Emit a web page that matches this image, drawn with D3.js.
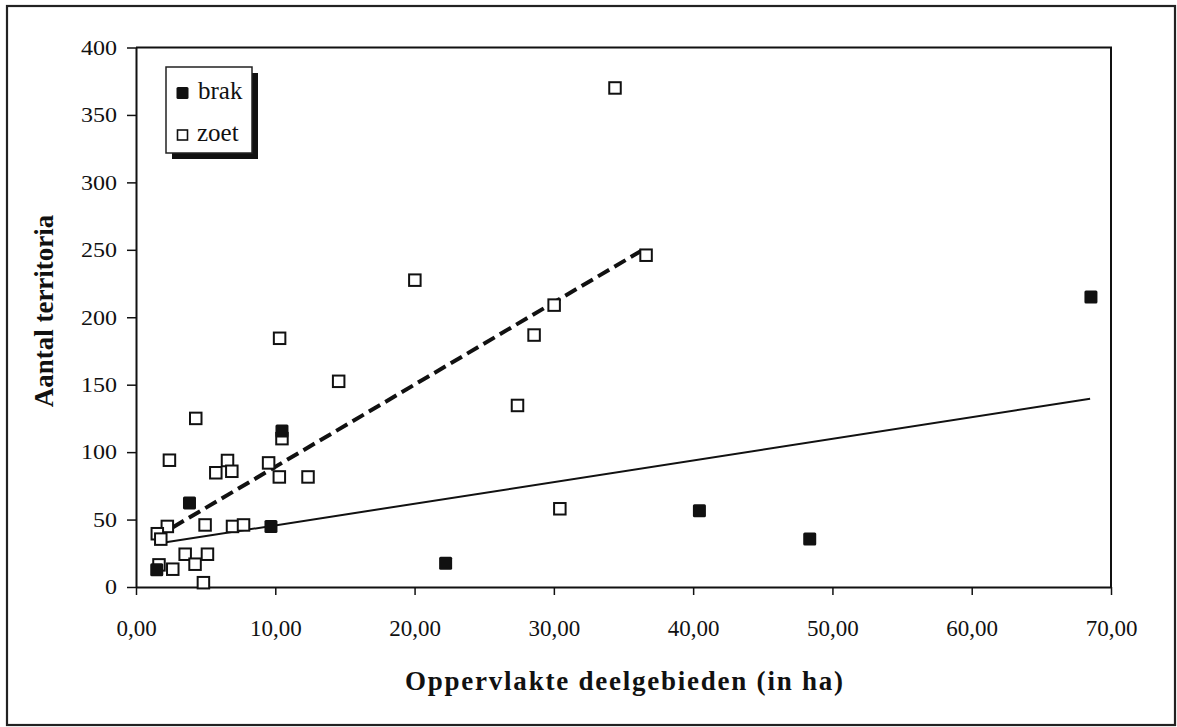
<!DOCTYPE html>
<html>
<head>
<meta charset="utf-8">
<script src="https://cdn.jsdelivr.net/npm/d3@7"></script>
<style>
  html, body { margin: 0; padding: 0; background: #fff; }
  svg { display: block; }
  text { font-family: "Liberation Serif", "Times New Roman", serif; fill: #111; }
</style>
</head>
<body>
<svg id="chart" width="1177" height="727"></svg>
<script>
// ---- data ----
const brakX = [1.49, 3.84, 9.69, 10.48, 22.23, 40.45, 48.37, 68.56];
const brakY = [12.7, 62.3, 44.9, 115.7, 17.6, 56.5, 35.5, 215];

const zoetX = [14.55, 4.29, 10.48, 2.4, 6.57, 5.73, 6.88, 9.52, 10.29, 12.35,
               4.96, 6.93, 7.72, 2.25, 1.53, 1.78, 3.53, 5.13, 4.24, 1.65,
               2.64, 4.84, 34.39, 36.62, 20.02, 30.02, 28.58, 10.31, 27.39, 30.43];
const zoetY = [152.5, 125, 110, 94, 93.8, 84.7, 85.8, 92, 81.6, 81.6,
               46, 44.9, 46, 44.9, 39.5, 35.5, 24.3, 24.3, 16.9, 16.4,
               13.2, 3.2, 370, 246, 227.5, 209, 186.8, 184.4, 134.6, 58];

// trend lines (end points)
const brakTrendX = [1.45, 68.5];
const brakTrendY = [32, 139.5];
const zoetTrendX = [1.45, 36.4];
const zoetTrendY = [37, 250];

const xTicks = [0, 10, 20, 30, 40, 50, 60, 70];
const yTicks = [0, 50, 100, 150, 200, 250, 300, 350, 400];
const seriesNames = ["brak", "zoet"];
const xTitle = "Oppervlakte deelgebieden (in ha)";
const yTitle = "Aantal territoria";

// ---- drawing ----
const svg = d3.select("#chart");
const L = 136, R = 1111, T = 47.5, B = 587;
const x = d3.scaleLinear().domain([0, 70]).range([L, R]);
const y = d3.scaleLinear().domain([0, 400]).range([B, T]);

// outer border
svg.append("rect").attr("x", 7).attr("y", 6).attr("width", 1168).attr("height", 719)
  .attr("fill", "none").attr("stroke", "#222").attr("stroke-width", 2.2);

// plot frame (top & right)
svg.append("path")
  .attr("d", `M${L},${T}H${R}V${B}`)
  .attr("fill", "none").attr("stroke", "#111").attr("stroke-width", 2);

// x axis
const fmtX = d => d3.format(".2f")(d).replace(".", ",");
const gx = svg.append("g").attr("transform", `translate(0,${B})`)
  .call(d3.axisBottom(x).tickValues(xTicks).tickFormat(fmtX).tickSize(8).tickSizeOuter(0));
gx.select(".domain").attr("stroke", "#111").attr("stroke-width", 2);
gx.selectAll(".tick line").attr("stroke", "#111").attr("stroke-width", 1.5);
gx.selectAll(".tick text").attr("y", 49).attr("dy", null)
  .style("font-size", "23px").style("font-family", "Liberation Serif").attr("fill", "#111");

// y axis
const gy = svg.append("g").attr("transform", `translate(${L},0)`)
  .call(d3.axisLeft(y).tickValues(yTicks).tickSize(9).tickSizeOuter(0));
gy.select(".domain").attr("stroke", "#111").attr("stroke-width", 2);
gy.selectAll(".tick line").attr("stroke", "#111").attr("stroke-width", 1.5);
gy.selectAll(".tick text").attr("x", 0).attr("dy", "0.34em")
  .attr("transform", "translate(-19,0) scale(1.2,1)")
  .style("font-size", "20px").style("font-family", "Liberation Serif").attr("fill", "#111");

// axis titles
svg.append("text").attr("x", 624).attr("y", 690).attr("text-anchor", "middle")
  .attr("textLength", 438).attr("lengthAdjust", "spacing")
  .style("font-size", "27px").style("font-weight", "bold").text(xTitle);
svg.append("text").attr("transform", "translate(53,311) rotate(-90)")
  .attr("text-anchor", "middle")
  .style("font-size", "27px").style("font-weight", "bold").text(yTitle);

// trend lines
const line = d3.line().x(d => x(d[0])).y(d => y(d[1]));
svg.append("path").datum(d3.zip(brakTrendX, brakTrendY)).attr("d", line)
  .attr("fill", "none").attr("stroke", "#111").attr("stroke-width", 2);
svg.append("path").datum(d3.zip(zoetTrendX, zoetTrendY)).attr("d", line)
  .attr("fill", "none").attr("stroke", "#111").attr("stroke-width", 4)
  .attr("stroke-dasharray", "13,6");

// zoet markers (open squares)
const so = 11.5;
svg.append("g").selectAll("rect").data(d3.zip(zoetX, zoetY)).join("rect")
  .attr("x", d => x(d[0]) - so / 2).attr("y", d => y(d[1]) - so / 2)
  .attr("width", so).attr("height", so)
  .attr("fill", "#fff").attr("stroke", "#111").attr("stroke-width", 2);

// brak markers (filled squares)
const sf = 13;
svg.append("g").selectAll("rect").data(d3.zip(brakX, brakY)).join("rect")
  .attr("x", d => x(d[0]) - sf / 2).attr("y", d => y(d[1]) - sf / 2)
  .attr("width", sf).attr("height", sf).attr("rx", 1.5)
  .attr("fill", "#111");

// legend
const lg = svg.append("g");
lg.append("rect").attr("x", 172).attr("y", 73).attr("width", 86).attr("height", 86).attr("fill", "#111");
lg.append("rect").attr("x", 166).attr("y", 67).attr("width", 86).attr("height", 86)
  .attr("fill", "#fff").attr("stroke", "#222").attr("stroke-width", 1.5);
lg.append("rect").attr("x", 176.5).attr("y", 87).attr("width", 12).attr("height", 12).attr("rx", 1.5).attr("fill", "#111");
lg.append("rect").attr("x", 177.5).attr("y", 130).attr("width", 10).attr("height", 10)
  .attr("fill", "#fff").attr("stroke", "#111").attr("stroke-width", 1.6);
lg.append("text").attr("x", 198).attr("y", 99).style("font-size", "25px").text(seriesNames[0]);
lg.append("text").attr("x", 197).attr("y", 141).style("font-size", "25px").text(seriesNames[1]);
</script>
</body>
</html>
